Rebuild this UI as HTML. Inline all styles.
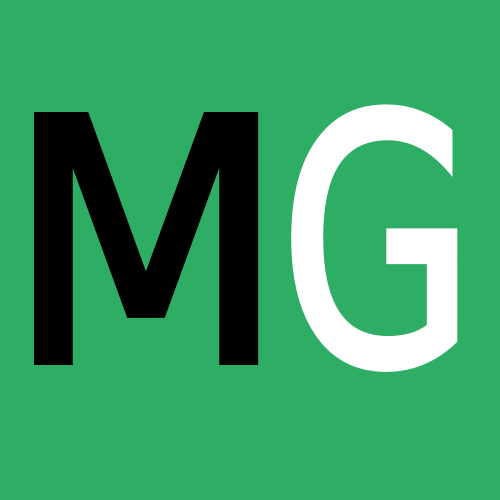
<!DOCTYPE html>
<html>
<head>
<meta charset="utf-8">
<style>
html,body{margin:0;padding:0;}
body{width:500px;height:500px;overflow:hidden;background:#2eae65;}
svg{display:block;}
</style>
</head>
<body>
<svg width="500" height="500" viewBox="0 0 500 500" xmlns="http://www.w3.org/2000/svg">
  <rect x="0" y="0" width="500" height="500" fill="#2eae65"/>
  <text x="6" y="361" font-family="DejaVu Sans, sans-serif" font-size="336" fill="#000000" stroke="#000000" stroke-width="8" stroke-linejoin="miter" textLength="280" lengthAdjust="spacingAndGlyphs">M</text>
  <text x="280" y="363" font-family="DejaVu Sans, sans-serif" font-size="343" fill="#ffffff" stroke="#ffffff" stroke-width="8" textLength="195" lengthAdjust="spacingAndGlyphs">G</text>
</svg>
</body>
</html>
